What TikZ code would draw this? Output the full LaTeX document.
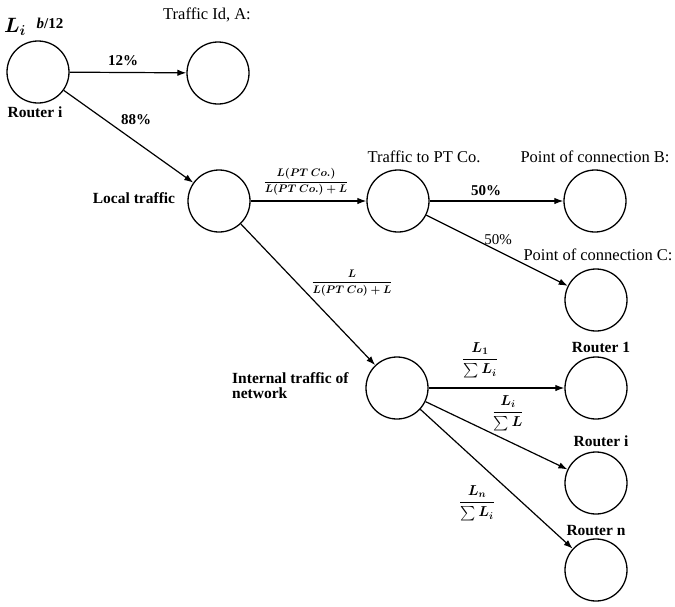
\documentclass[tikz,border=0pt]{standalone}
\usepackage{amsmath}
\usepackage{fontspec}
\setmainfont{Liberation Serif}
\usetikzlibrary{arrows.meta}
\begin{document}
\begin{tikzpicture}[x=1pt,y=-1pt,
  nd/.style={circle,draw,line width=1.3pt,minimum size=62pt,inner sep=0pt},
  arr/.style={-{Latex[length=9pt,width=6.5pt]},line width=1.2pt},
  lb/.style={font=\fontsize{15.5}{15}\selectfont\bfseries,inner sep=0pt},
  tl/.style={font=\fontsize{16.5}{17}\selectfont,inner sep=0pt},
  pc/.style={font=\fontsize{15}{16}\selectfont\bfseries,inner sep=0pt},
  fr/.style={font=\fontsize{11}{12}\selectfont\boldmath,inner sep=0pt},
  fb/.style={font=\fontsize{14}{15}\selectfont\boldmath,inner sep=0pt}]
\useasboundingbox (0,0) rectangle (675,606);
% nodes
\node[nd] (ri) at (38,72) {};
\node[nd] (ta) at (218,73) {};
\node[nd] (lt) at (219,201) {};
\node[nd] (pt) at (398,201) {};
\node[nd] (pb) at (595,201) {};
\node[nd] (pcC) at (596,300) {};
\node[nd] (it) at (397,388) {};
\node[nd] (r1) at (596,388) {};
\node[nd] (rI) at (596,483) {};
\node[nd] (rn) at (596,570) {};
% node labels
\node[font=\fontsize{21}{21}\selectfont\boldmath,inner sep=0pt] (lab0) at (15,27) {$L_i$};
\node[font=\fontsize{15}{16}\selectfont\bfseries,inner sep=0pt] (lab0b) at (50,23) {\textit{b}/12};
\node[lb] (lab1) at (35,112) {Router i};
\node[tl] (lab2) at (207,15) {Traffic Id, A:};
\node[lb] (lab3) at (134,198) {Local traffic};
\node[tl] (lab4) at (424,157) {Traffic to PT Co.};
\node[tl] (lab5) at (595,157) {Point of connection B:};
\node[tl] (lab6) at (598,255) {Point of connection C:};
\node[lb,anchor=north west,align=left] (lab7) at (232,372) {Internal traffic of\\network};
\node[lb] (lab8) at (601,347) {Router 1};
\node[lb] (lab9) at (601,441) {Router i};
\node[lb] (lab10) at (596,531) {Router n};
% connectors
\draw[arr] (ri) -- (ta);
\draw[arr] (ri) -- (lt);
\draw[arr] (lt) -- (pt);
\draw[arr] (lt) -- (it);
\draw[arr] (pt) -- (pb);
\draw[arr] (pt) -- (pcC);
\draw[arr] (it) -- (r1);
\draw[arr] (it) -- (rI);
\draw[arr] (it) -- (rn);
% edge labels
\node[pc] (e1) at (123,61) {12\%};
\node[pc] (e2) at (136,120) {88\%};
\node[fr] (e3) at (306,182) {$\dfrac{L(PT\ Co.)}{L(PT\ Co.)+L}$};
\node[fr] (e4) at (352,283) {$\dfrac{L}{L(PT\ Co)+L}$};
\node[pc] (e5) at (486,191) {50\%};
\node[pc,font=\fontsize{15}{16}\selectfont] (e6) at (498,240) {50\%};
\node[fb] (e7) at (480,360) {$\dfrac{L_1}{\sum L_i}$};
\node[fb] (e8) at (508,413) {$\dfrac{L_i}{\sum L}$};
\node[fb] (e9) at (477,503) {$\dfrac{L_n}{\sum L_i}$};
\end{tikzpicture}
\end{document}
